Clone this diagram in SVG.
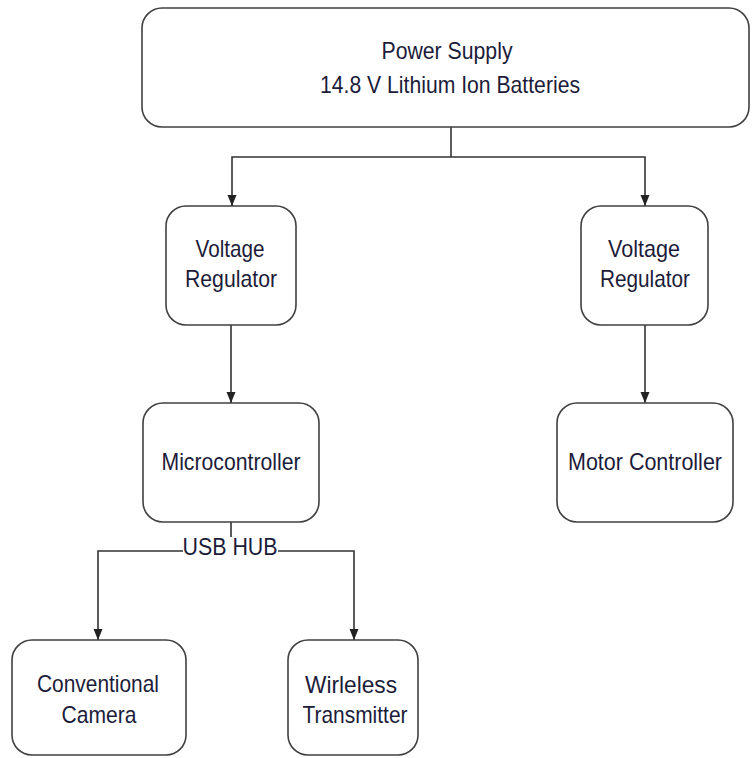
<svg xmlns="http://www.w3.org/2000/svg" width="752" height="758" viewBox="0 0 752 758">
<style>
.box{fill:#fff;stroke:#404040;stroke-width:1.6}
.t{font-family:"Liberation Sans",Arial,sans-serif;font-size:24px;fill:#1c1c3a;text-anchor:middle}
.c{fill:none;stroke:#333;stroke-width:1.6}
</style>
<defs>
<marker id="ah" markerUnits="userSpaceOnUse" markerWidth="12" markerHeight="10" refX="11" refY="4.5" orient="auto">
<path d="M0,0 L11,4.5 L0,9 z" fill="#222"/>
</marker>
</defs>
<rect width="752" height="758" fill="#fff"/>
<g id="connectors">
<path class="c" d="M451,127 V157"/>
<path class="c" d="M451,157 H232 V206" marker-end="url(#ah)"/>
<path class="c" d="M451,157 H645 V206" marker-end="url(#ah)"/>
<path class="c" d="M231,325 V403" marker-end="url(#ah)"/>
<path class="c" d="M645,325 V403" marker-end="url(#ah)"/>
<path class="c" d="M231,522 V537"/>
<path class="c" d="M183,551 H98 V640" marker-end="url(#ah)"/>
<path class="c" d="M278,551 H354 V640" marker-end="url(#ah)"/>
<text class="t" x="230" y="555" textLength="95" lengthAdjust="spacingAndGlyphs">USB HUB</text>
</g>
<g id="power-supply">
<rect class="box" x="142" y="8" width="607" height="119" rx="20"/>
<text class="t" x="447" y="59" textLength="131" lengthAdjust="spacingAndGlyphs">Power Supply</text>
<text class="t" x="450" y="93" textLength="260" lengthAdjust="spacingAndGlyphs">14.8 V Lithium Ion Batteries</text>
</g>
<g id="voltage-regulator-left">
<rect class="box" x="166" y="206" width="130" height="119" rx="20"/>
<text class="t" x="230" y="257" textLength="69" lengthAdjust="spacingAndGlyphs">Voltage</text>
<text class="t" x="231" y="287" textLength="92" lengthAdjust="spacingAndGlyphs">Regulator</text>
</g>
<g id="voltage-regulator-right">
<rect class="box" x="581" y="206" width="127" height="119" rx="20"/>
<text class="t" x="644" y="257" textLength="72" lengthAdjust="spacingAndGlyphs">Voltage</text>
<text class="t" x="645" y="287" textLength="90" lengthAdjust="spacingAndGlyphs">Regulator</text>
</g>
<g id="microcontroller">
<rect class="box" x="143" y="403" width="176" height="119" rx="20"/>
<text class="t" x="231" y="470" textLength="139" lengthAdjust="spacingAndGlyphs">Microcontroller</text>
</g>
<g id="motor-controller">
<rect class="box" x="557" y="403" width="176" height="119" rx="20"/>
<text class="t" x="645" y="470" textLength="154" lengthAdjust="spacingAndGlyphs">Motor Controller</text>
</g>
<g id="conventional-camera">
<rect class="box" x="12" y="640" width="174" height="115" rx="20"/>
<text class="t" x="98" y="692" textLength="122" lengthAdjust="spacingAndGlyphs">Conventional</text>
<text class="t" x="99" y="723" textLength="75" lengthAdjust="spacingAndGlyphs">Camera</text>
</g>
<g id="wireless-transmitter">
<rect class="box" x="288" y="640" width="130" height="115" rx="20"/>
<text class="t" x="351" y="693" textLength="92" lengthAdjust="spacingAndGlyphs">Wirleless</text>
<text class="t" x="355" y="723" textLength="105" lengthAdjust="spacingAndGlyphs">Transmitter</text>
</g>
</svg>
